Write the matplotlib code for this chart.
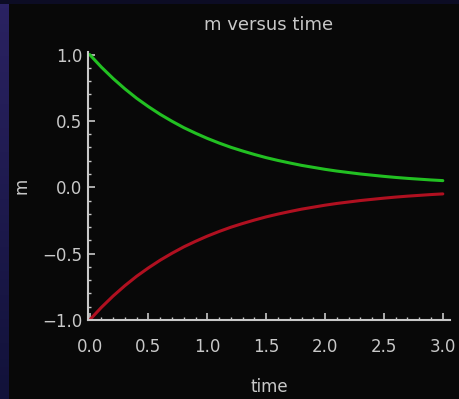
import numpy as np
import matplotlib
matplotlib.use("Agg")
import matplotlib.pyplot as plt
from matplotlib.ticker import MultipleLocator

# values
time = [0.0, 0.1, 0.2, 0.3, 0.4, 0.5, 0.6, 0.7, 0.8, 0.9, 1.0,
        1.1, 1.2, 1.3, 1.4, 1.5, 1.6, 1.7, 1.8, 1.9, 2.0,
        2.1, 2.2, 2.3, 2.4, 2.5, 2.6, 2.7, 2.8, 2.9, 3.0]
m_up = [1.000, 0.905, 0.819, 0.741, 0.670, 0.607, 0.549, 0.497, 0.449, 0.407, 0.368,
        0.333, 0.301, 0.273, 0.247, 0.223, 0.202, 0.183, 0.165, 0.150, 0.135,
        0.122, 0.111, 0.100, 0.091, 0.082, 0.074, 0.067, 0.061, 0.055, 0.050]
m_down = [-1.000, -0.905, -0.819, -0.741, -0.670, -0.607, -0.549, -0.497, -0.449, -0.407, -0.368,
          -0.333, -0.301, -0.273, -0.247, -0.223, -0.202, -0.183, -0.165, -0.150, -0.135,
          -0.122, -0.111, -0.100, -0.091, -0.082, -0.074, -0.067, -0.061, -0.055, -0.050]
xticks = [0.0, 0.5, 1.0, 1.5, 2.0, 2.5, 3.0]
yticks = [-1.0, -0.5, 0.0, 0.5, 1.0]

fg = '#c8c8c8'
fig = plt.figure(figsize=(4.60, 3.99), dpi=100, facecolor='#080808')

# dark blue strip at the left edge of the screen capture
strip = fig.add_axes([0, 0, 0.018, 1])
strip.imshow(np.linspace(0, 1, 50).reshape(-1, 1), aspect='auto', extent=[0, 1, 0, 1],
             cmap=matplotlib.colors.LinearSegmentedColormap.from_list('s', ['#2a2262', '#12123a']))
strip.axis('off')
top = fig.add_axes([0, 0.99, 1, 0.01])
top.axis('off')
top.add_patch(plt.Rectangle((0, 0), 1, 1, color='#0c0c24', transform=top.transAxes))

ax = fig.add_axes([0.191, 0.198, 0.787, 0.672])
ax.set_facecolor('#080808')
ax.plot(time, m_up, color='#22c022', lw=2.2, solid_capstyle='round')
ax.plot(time, m_down, color='#b01020', lw=2.2, solid_capstyle='round')

ax.set_xlim(-0.015, 3.06)
ax.set_ylim(-1.0, 1.02)
ax.set_xticks(xticks)
ax.set_yticks(yticks)
ax.set_xticklabels(['%.1f' % v for v in xticks])
ax.set_yticklabels(['%.1f' % v if v >= 0 else '\u2212%.1f' % -v for v in yticks])
ax.xaxis.set_minor_locator(MultipleLocator(0.1))
ax.yaxis.set_minor_locator(MultipleLocator(0.1))
ax.tick_params(which='major', direction='in', length=5, width=1.2, color=fg,
               labelcolor=fg, labelsize=12)
ax.tick_params(axis='x', which='major', pad=13)
ax.tick_params(axis='y', which='major', pad=4)
ax.tick_params(which='minor', direction='in', length=2.5, width=1.0, color=fg)

for s in ['top', 'right']:
    ax.spines[s].set_visible(False)
for s in ['left', 'bottom']:
    ax.spines[s].set_color(fg)
    ax.spines[s].set_linewidth(1.5)

ax.set_title('m versus time', color=fg, fontsize=13, pad=16)
ax.set_xlabel('time', color=fg, fontsize=12, labelpad=16)
ax.set_ylabel('m', color=fg, fontsize=12, labelpad=8)

fig.savefig('out.png', dpi=100, facecolor=fig.get_facecolor())
